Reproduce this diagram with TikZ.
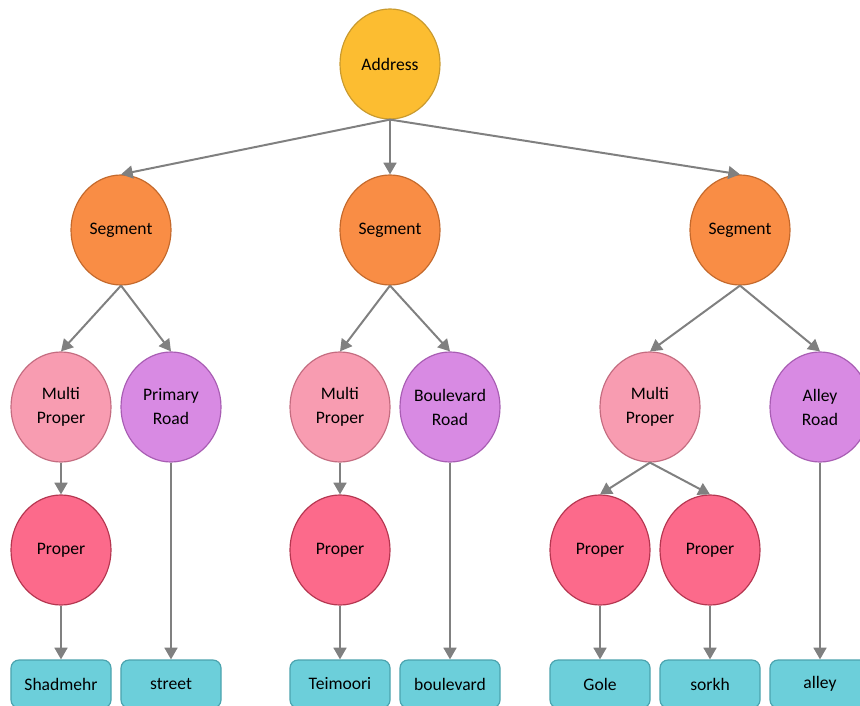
\documentclass[tikz,border=0pt]{standalone}
\usepackage{fontspec}
\setmainfont{Carlito}
\usetikzlibrary{shapes.geometric,arrows.meta}
\definecolor{addrF}{HTML}{FCBD31}\definecolor{addrD}{HTML}{C99A2E}
\definecolor{segF}{HTML}{F98D45}\definecolor{segD}{HTML}{C4692C}
\definecolor{mpF}{HTML}{F89CB1}\definecolor{mpD}{HTML}{C46C80}
\definecolor{rdF}{HTML}{D88AE3}\definecolor{rdD}{HTML}{A85DB3}
\definecolor{prF}{HTML}{FC6A8B}\definecolor{prD}{HTML}{B53650}
\definecolor{lfF}{HTML}{6CCFDA}\definecolor{lfD}{HTML}{4BA3AE}
\definecolor{arr}{HTML}{808080}
\begin{document}
\begin{tikzpicture}[x=0.03cm,y=-0.03cm,
  every node/.style={font=\fontsize{15}{20.5}\selectfont, align=center, inner sep=0pt},
  circ/.style={ellipse, minimum width=3cm, minimum height=3.3cm, inner sep=-8pt, line width=1pt},
  addr/.style={circ, fill=addrF, draw=addrD},
  seg/.style={circ, fill=segF, draw=segD},
  mp/.style={circ, fill=mpF, draw=mpD},
  rd/.style={circ, fill=rdF, draw=rdD},
  pr/.style={circ, fill=prF, draw=prD},
  leaf/.style={rectangle, rounded corners=0.24cm, minimum width=3cm, minimum height=1.44cm, fill=lfF, draw=lfD, line width=1pt},
  conn/.style={draw=arr, line width=1.7pt, -{Triangle[length=10pt,width=11pt]}}
]
\useasboundingbox (0,0) rectangle (860,706);
\begin{scope}
\clip (0,0) rectangle (860,706);
\node[addr] (A) at (390,64) {Address};
\node[seg] (S1) at (121,230) {Segment};
\node[seg] (S2) at (390,230) {Segment};
\node[seg] (S3) at (740,230) {Segment};
\node[mp] (M1) at (61,407) {Multi\\Proper};
\node[rd] (R1) at (171,407) {Primary\\Road};
\node[mp] (M2) at (340,407) {Multi\\Proper};
\node[rd] (R2) at (450,407) {Boulevard\\Road};
\node[mp] (M3) at (650,407) {Multi\\Proper};
\node[rd] (R3) at (820,407) {Alley\\Road};
\node[pr] (P1) at (61,550) {Proper};
\node[pr] (P2) at (340,550) {Proper};
\node[pr] (P3) at (600,550) {Proper};
\node[pr] (P4) at (710,550) {Proper};
\node[leaf] (L1) at (61,684) {Shadmehr};
\node[leaf] (L2) at (171,684) {street};
\node[leaf] (L3) at (340,684) {Teimoori};
\node[leaf] (L4) at (450,684) {boulevard};
\node[leaf] (L5) at (600,684) {Gole};
\node[leaf] (L6) at (710,684) {sorkh};
\node[leaf] (L7) at (820,684) {alley};
\foreach \a/\b in {A/S1,A/S2,A/S3,S1/M1,S1/R1,S2/M2,S2/R2,S3/M3,S3/R3,M1/P1,M2/P2,M3/P3,M3/P4,P1/L1,R1/L2,P2/L3,R2/L4,P3/L5,P4/L6,R3/L7}
  \draw[conn] (\a.south) -- (\b.north);
\end{scope}
\end{tikzpicture}
\end{document}
